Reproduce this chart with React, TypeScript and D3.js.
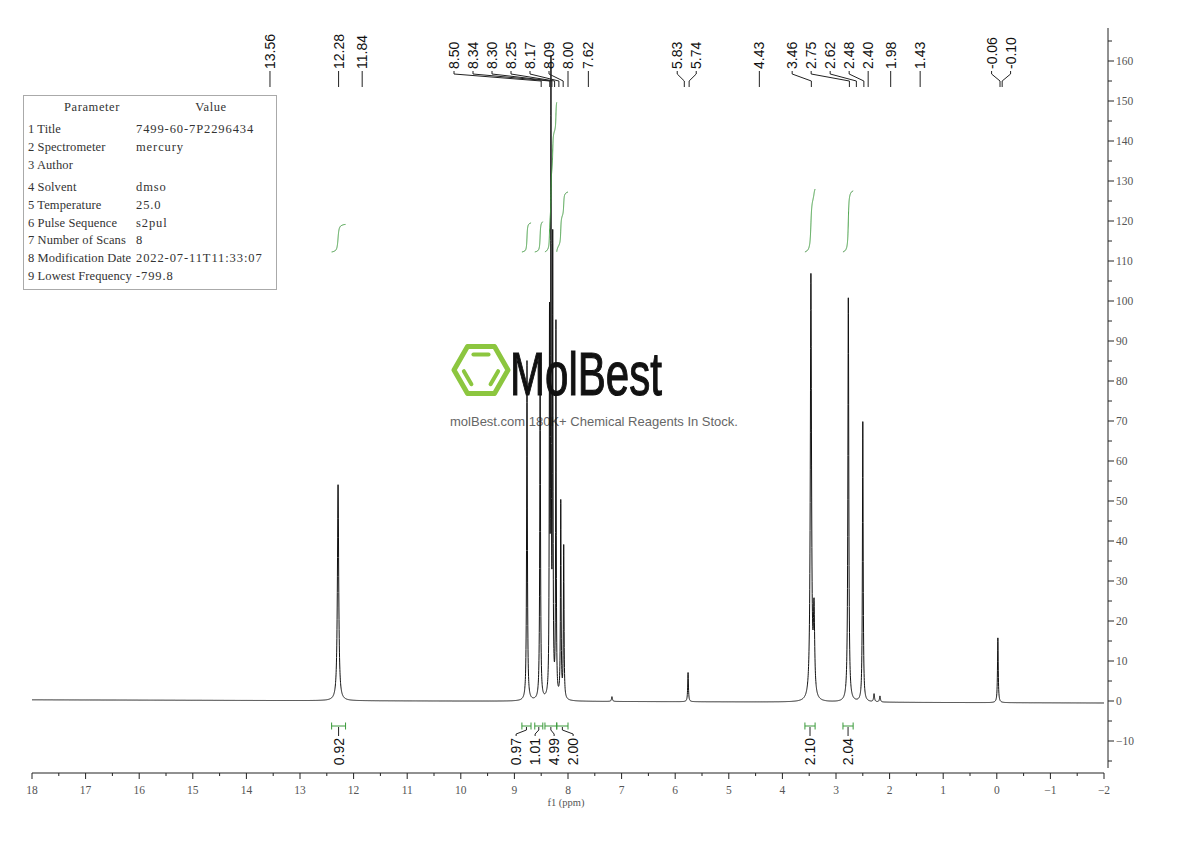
import React from 'react';
import * as d3 from 'd3';

// ---- spectrum peaks (ppm, height, half-width in ppm) ----
const peakPpm = [12.29, 8.765, 8.52, 8.345, 8.318, 8.285, 8.225, 8.135, 8.08, 7.18, 5.76, 3.468, 3.41, 2.77, 2.5, 2.29, 2.18, -0.02];
const peakHeight = [54, 85, 84, 91, 153, 111, 93, 49, 38, 1.2, 7.3, 106, 21, 101, 70, 2, 1.5, 16.2];
const peakHalfWidth = [0.014, 0.008, 0.008, 0.006, 0.006, 0.006, 0.006, 0.007, 0.007, 0.01, 0.008, 0.013, 0.014, 0.01, 0.008, 0.01, 0.01, 0.008];

const baselinePpm = [18, -2];
const baselineValue = [0.3, -0.5];

// ---- peak labels ----
const peakLabels = [13.56, 12.28, 11.84, 8.5, 8.34, 8.3, 8.25, 8.17, 8.09, 8.0, 7.62, 5.83, 5.74, 4.43, 3.46, 2.75, 2.62, 2.48, 2.4, 1.98, 1.43, -0.06, -0.1];

// ---- integrals ----
const integralFrom = [12.41, 8.86, 8.62, 8.43, 8.21, 3.58, 2.87];
const integralTo = [12.15, 8.69, 8.47, 8.21, 8.0, 3.39, 2.68];
const integralValue = [0.92, 0.97, 1.01, 4.99, 2.0, 2.1, 2.04];

// ---- axes ----
const xMajorTicks = d3.range(-2, 19, 1);
const xMinorTicks = d3.range(-1.5, 18, 1);
const yMajorTicks = d3.range(-10, 161, 10);
const yMinorTicks = d3.range(-15, 166, 10);

// ---- parameter table ----
const paramNames = ['1 Title', '2 Spectrometer', '3 Author', '4 Solvent', '5 Temperature', '6 Pulse Sequence', '7 Number of Scans', '8 Modification Date', '9 Lowest Frequency'];
const paramValues = ['7499-60-7P2296434', 'mercury', '', 'dmso', '25.0', 's2pul', '8', '2022-07-11T11:33:07', '-799.8'];

const x = d3.scaleLinear().domain([18, -2]).range([32, 1104]);
const y = d3.scaleLinear().domain([0, 160]).range([701, 61]);
const baseline = d3.scaleLinear().domain(baselinePpm).range(baselineValue);

function peaksAt(p: number) {
  let s = 0;
  for (let i = 0; i < peakPpm.length; i++) {
    const d = (p - peakPpm[i]) / peakHalfWidth[i];
    s += peakHeight[i] / (1 + d * d);
  }
  return s;
}
const spec = (p: number) => baseline(p) + peaksAt(p);

function spreadRTL(xs: number[], gap: number) {
  const out = xs.slice();
  for (let i = out.length - 2; i >= 0; i--) out[i] = Math.min(out[i], out[i + 1] - gap);
  let i = 0;
  while (i < out.length) {
    let j = i;
    while (j + 1 < out.length && out[j + 1] - out[j] <= gap + 0.01) j++;
    if (j - i === 1) {
      const m = (xs[i] + xs[j]) / 2;
      out[i] = m - gap / 2;
      out[j] = m + gap / 2;
    }
    i = j + 1;
  }
  return out;
}

function spreadCentered(xs: number[], gap: number) {
  let clusters = xs.map((v, i) => ({ idx: [i], center: v }));
  let changed = true;
  while (changed) {
    changed = false;
    for (let i = 0; i < clusters.length - 1; i++) {
      const a = clusters[i], b = clusters[i + 1];
      const aR = a.center + ((a.idx.length - 1) * gap) / 2;
      const bL = b.center - ((b.idx.length - 1) * gap) / 2;
      if (bL - aR < gap) {
        const idx = a.idx.concat(b.idx);
        const center = d3.mean(idx, (k) => xs[k]) as number;
        clusters.splice(i, 2, { idx, center });
        changed = true;
        break;
      }
    }
  }
  const out = xs.slice();
  clusters.forEach((c) => {
    c.idx.forEach((k, j) => {
      out[k] = c.center + (j - (c.idx.length - 1) / 2) * gap;
    });
  });
  return out;
}

const fmt = (v: number) => v.toFixed(2);
const axisFont = "'Liberation Serif', 'DejaVu Serif', serif";
const labelFont = "'Liberation Sans', Arial, sans-serif";
const GREEN = '#3a9a3a';

export default function App() {
  const grid = d3.range(18, -2.0001, -0.002).concat(peakPpm).sort((a, b) => b - a);
  const specPath = d3
    .line<number>()
    .x((p) => x(p))
    .y((p) => y(spec(p)))(grid) as string;

  const intBase = 112.25;
  const perUnit = 7.5;
  const integralPaths = integralFrom.map((from, k) => {
    const to = integralTo[k];
    const g = d3.range(from, to - 0.00001, -0.0005);
    let cum = 0;
    const cs = g.map((p) => (cum += peaksAt(p)));
    const tot = cum || 1;
    const pts: [number, number][] = g.map((p, i) => [x(p), y(intBase + integralValue[k] * perUnit * (cs[i] / tot))]);
    return d3.line()(pts) as string;
  });

  const pOwn = peakLabels.map((p) => x(p));
  const pLab = spreadRTL(pOwn, 19);

  const iOwn = integralFrom.map((f, k) => x((f + integralTo[k]) / 2));
  const iLab = spreadCentered(iOwn, 19);

  const hx = 481, hy = 370, hr = 27;
  const hv = d3.range(6).map((k) => [hx + hr * Math.cos((k * Math.PI) / 3), hy + hr * Math.sin((k * Math.PI) / 3)] as [number, number]);
  const hexPath = (d3.line()(hv) as string) + 'Z';
  const innerBars = [
    [4, 5],
    [2, 3],
    [0, 1],
  ].map(([a, b]) => {
    const ir = 0.66;
    const A = [hx + (hv[a][0] - hx) * ir, hy + (hv[a][1] - hy) * ir];
    const B = [hx + (hv[b][0] - hx) * ir, hy + (hv[b][1] - hy) * ir];
    const mx = (A[0] + B[0]) / 2, my = (A[1] + B[1]) / 2;
    const s = 0.85;
    return [mx + (A[0] - mx) * s, my + (A[1] - my) * s, mx + (B[0] - mx) * s, my + (B[1] - my) * s];
  });

  const rowY = [129, 147, 165, 187, 205, 223, 240, 258, 276];

  return (
    <svg width={1190} height={841} style={{ position: 'absolute', left: 0, top: 0, background: '#fff' }}>
      <rect x={0} y={0} width={1190} height={841} fill="#fff" />

      {/* watermark */}
      <g>
        <path d={hexPath} fill="none" stroke="#8cc63f" strokeWidth={5} strokeLinejoin="round" />
        {innerBars.map((b, i) => (
          <line key={i} x1={b[0]} y1={b[1]} x2={b[2]} y2={b[3]} stroke="#8cc63f" strokeWidth={4} strokeLinecap="round" />
        ))}
        <text x={510} y={395} fontFamily={labelFont} fontSize={62} textLength={152} lengthAdjust="spacingAndGlyphs" fill="#111" stroke="#111" strokeWidth={1.2}>
          MolBest
        </text>
        <text x={594} y={426} fontFamily={labelFont} fontSize={13} fill="#666" textAnchor="middle">
          molBest.com 180K+ Chemical Reagents In Stock.
        </text>
      </g>

      {/* parameter table */}
      <g fontFamily={axisFont} fontSize={12.5} fill="#333">
        <rect x={23.5} y={95.5} width={253} height={194} fill="none" stroke="#aaa" />
        <text x={92} y={107} textAnchor="middle" dominantBaseline="central" letterSpacing={0.6}>Parameter</text>
        <text x={211} y={107} textAnchor="middle" dominantBaseline="central" letterSpacing={0.6}>Value</text>
        {paramNames.map((n, i) => (
          <g key={n}>
            <text x={28} y={rowY[i]} dominantBaseline="central" letterSpacing={0.1}>{n}</text>
            <text x={136} y={rowY[i]} dominantBaseline="central" letterSpacing={0.9}>{paramValues[i]}</text>
          </g>
        ))}
      </g>

      {/* spectrum */}
      <path d={specPath} fill="none" stroke="#111" strokeWidth={1} />

      {/* integral curves */}
      {integralPaths.map((d, i) => (
        <path key={i} d={d} fill="none" stroke={GREEN} strokeWidth={1} />
      ))}

      {/* peak labels */}
      <g fontFamily={labelFont} fontSize={14} fill="#111">
        {peakLabels.map((p, i) => {
          const lx = pLab[i], px = pOwn[i];
          const moved = Math.abs(lx - px) > 0.5;
          const d = moved ? `M${lx},71L${lx},74L${px},81L${px},87` : `M${px},71L${px},87`;
          return (
            <g key={i}>
              <path d={d} fill="none" stroke="#222" strokeWidth={1} />
              <text transform={`translate(${lx},69) rotate(-90)`} dominantBaseline="central">
                {fmt(p)}
              </text>
            </g>
          );
        })}
      </g>

      {/* integral brackets & labels */}
      <g fontFamily={labelFont} fontSize={14} fill="#111">
        {integralFrom.map((f, k) => {
          const x1 = x(f), x2 = x(integralTo[k]);
          const cx = iOwn[k], lx = iLab[k];
          const moved = Math.abs(lx - cx) > 0.5;
          const d = moved ? `M${cx},727L${cx},730L${lx},734L${lx},736` : `M${cx},727L${cx},736`;
          return (
            <g key={k}>
              <path d={`M${x1},726L${x2},726M${x1},722.5L${x1},729.5M${x2},722.5L${x2},729.5`} stroke={GREEN} strokeWidth={1} fill="none" />
              <path d={d} stroke="#222" strokeWidth={1} fill="none" />
              <text transform={`translate(${lx},738) rotate(-90)`} textAnchor="end" dominantBaseline="central">
                {fmt(integralValue[k])}
              </text>
            </g>
          );
        })}
      </g>

      {/* x axis */}
      <g>
        <line x1={x(18)} x2={x(-2)} y1={773} y2={773} stroke="#222" />
        {xMajorTicks.map((t) => (
          <line key={'M' + t} x1={x(t)} x2={x(t)} y1={773} y2={779} stroke="#222" />
        ))}
        {xMinorTicks.map((t) => (
          <line key={'m' + t} x1={x(t)} x2={x(t)} y1={773} y2={776} stroke="#222" />
        ))}
        {xMajorTicks.map((t) => (
          <text key={'l' + t} x={x(t)} y={790} textAnchor="middle" dominantBaseline="central" fontFamily={axisFont} fontSize={11.5} fill="#555">
            {t < 0 ? '\u2212' + Math.abs(t) : t}
          </text>
        ))}
        <text x={566} y={802} textAnchor="middle" dominantBaseline="central" fontFamily={axisFont} fontSize={10.5} fill="#555">
          f1 (ppm)
        </text>
      </g>

      {/* y axis (right) */}
      <g>
        <line x1={1108} x2={1108} y1={28} y2={768} stroke="#222" />
        {yMajorTicks.map((t) => (
          <line key={'M' + t} x1={1108} x2={1114} y1={y(t)} y2={y(t)} stroke="#222" />
        ))}
        {yMinorTicks.map((t) => (
          <line key={'m' + t} x1={1108} x2={1112} y1={y(t)} y2={y(t)} stroke="#222" />
        ))}
        {yMajorTicks.map((t) => (
          <text key={'l' + t} x={1116} y={y(t)} dominantBaseline="central" fontFamily={axisFont} fontSize={11.5} fill="#555">
            {t < 0 ? '\u2212' + Math.abs(t) : t}
          </text>
        ))}
      </g>
    </svg>
  );
}
